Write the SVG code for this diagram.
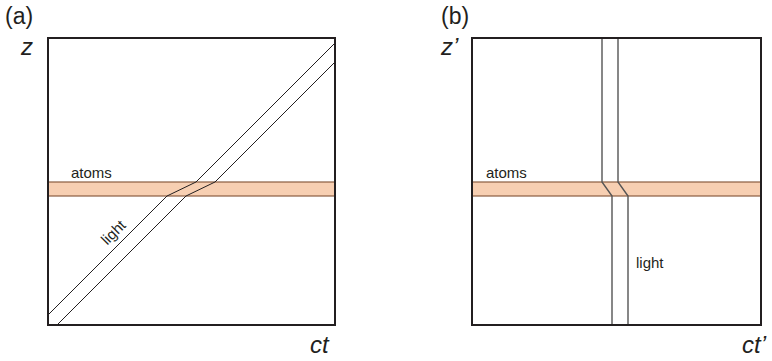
<svg xmlns="http://www.w3.org/2000/svg" width="772" height="361" viewBox="0 0 772 361">
<style>
.frame{fill:none;stroke:#231f20;stroke-width:2}
.band{fill:#f7cfb2;stroke:#8a5d40;stroke-width:1.2}
.ray{fill:none;stroke:#231f20;stroke-width:1}
.rayb{fill:none;stroke:#555;stroke-width:1.4}
.lbl{font-family:"Liberation Sans",Arial,sans-serif;font-size:15px;fill:#231f20}
.ax{font-family:"Liberation Sans",Arial,sans-serif;font-size:24px;font-style:italic;fill:#231f20}
.pl{font-family:"Liberation Sans",Arial,sans-serif;font-size:23px;fill:#231f20}
</style>
<rect width="772" height="361" fill="#fff"/>
<g id="atoms-a">
<rect class="band" x="48" y="182" width="287" height="14"/>
<text class="lbl" x="71" y="178">atoms</text>
</g>
<g id="atoms-b">
<rect class="band" x="472" y="182" width="289" height="14"/>
<text class="lbl" x="486" y="178">atoms</text>
</g>
<g id="connectors">
<polyline class="ray" points="48,315 167,196 196,182 335,43"/>
<polyline class="ray" points="57,325 186,196 215,182 335,62"/>
<polyline class="rayb" points="602,38 602,182 612,196 612,325"/>
<polyline class="rayb" points="618,38 618,182 628,196 628,325"/>
</g>
<g id="panel-a">
<rect class="frame" x="48" y="38" width="287" height="287"/>
<text class="pl" x="5" y="24">(a)</text>
<text class="ax" x="21" y="55">z</text>
<text class="ax" x="310" y="353">ct</text>
</g>
<g id="light-a">
<text class="lbl" transform="translate(117,236) rotate(-45)" text-anchor="middle">light</text>
</g>
<g id="panel-b">
<rect class="frame" x="472" y="38" width="289" height="287"/>
<text class="pl" x="441" y="24">(b)</text>
<text class="ax" x="441" y="55">z’</text>
<text class="ax" x="742" y="353">ct’</text>
</g>
<g id="light-b">
<text class="lbl" x="636" y="268">light</text>
</g>
</svg>
